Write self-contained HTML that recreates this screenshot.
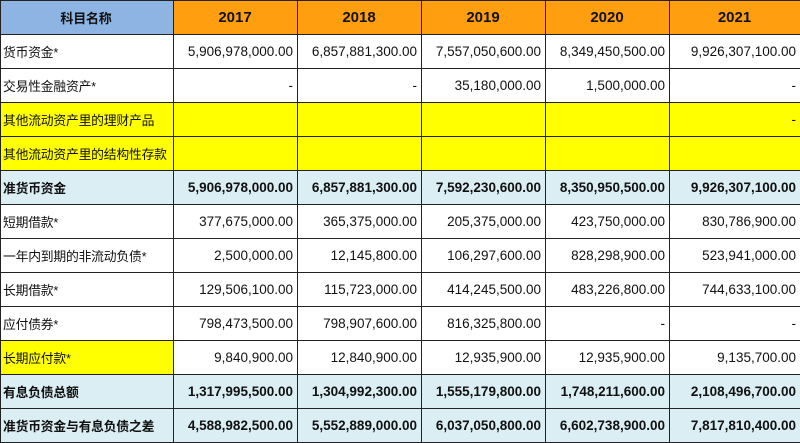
<!DOCTYPE html>
<html><head><meta charset="utf-8"><style>
html,body{margin:0;padding:0;background:#fff;}
body{width:800px;height:443px;overflow:hidden;position:relative;font-family:"Liberation Sans","Noto Sans CJK SC",sans-serif;}
table{border-collapse:collapse;position:absolute;left:0;top:0;table-layout:fixed;width:800px;}
td{height:33px;border:1px solid #222;padding:0 4px 0 3px;font-size:13.5px;color:#111;white-space:nowrap;overflow:hidden;text-align:right;}
td.n{text-align:left;padding-left:2px;font-size:12.8px;letter-spacing:-0.2px;}
tr.h td{background:#ff9e0f;font-weight:bold;font-size:15px;text-align:center;}
tr.h td.n{background:#8db4e2;text-align:center;font-size:13px;}
tr.y td{background:#ffff00;}
tr.b td{background:#dbeef4;font-weight:bold;}
tr.y td.n{background:#ffff00}
tr.b td.n{background:#dbeef4}
</style></head><body>
<table>
<colgroup><col style="width:173px"><col style="width:124px"><col style="width:124px"><col style="width:124px"><col style="width:124px"><col style="width:131px"></colgroup>
<tr class="h"><td class="n">科目名称</td><td>2017</td><td>2018</td><td>2019</td><td>2020</td><td>2021</td></tr>
<tr><td class="n">货币资金*</td><td>5,906,978,000.00</td><td>6,857,881,300.00</td><td>7,557,050,600.00</td><td>8,349,450,500.00</td><td>9,926,307,100.00</td></tr>
<tr><td class="n">交易性金融资产*</td><td>-</td><td>-</td><td>35,180,000.00</td><td>1,500,000.00</td><td>-</td></tr>
<tr class="y"><td class="n">其他流动资产里的理财产品</td><td></td><td></td><td></td><td></td><td>-</td></tr>
<tr class="y"><td class="n">其他流动资产里的结构性存款</td><td></td><td></td><td></td><td></td><td></td></tr>
<tr class="b"><td class="n">准货币资金</td><td>5,906,978,000.00</td><td>6,857,881,300.00</td><td>7,592,230,600.00</td><td>8,350,950,500.00</td><td>9,926,307,100.00</td></tr>
<tr><td class="n">短期借款*</td><td>377,675,000.00</td><td>365,375,000.00</td><td>205,375,000.00</td><td>423,750,000.00</td><td>830,786,900.00</td></tr>
<tr><td class="n">一年内到期的非流动负债*</td><td>2,500,000.00</td><td>12,145,800.00</td><td>106,297,600.00</td><td>828,298,900.00</td><td>523,941,000.00</td></tr>
<tr><td class="n">长期借款*</td><td>129,506,100.00</td><td>115,723,000.00</td><td>414,245,500.00</td><td>483,226,800.00</td><td>744,633,100.00</td></tr>
<tr><td class="n">应付债券*</td><td>798,473,500.00</td><td>798,907,600.00</td><td>816,325,800.00</td><td>-</td><td>-</td></tr>
<tr><td class="n" style="background:#ffff00">长期应付款*</td><td>9,840,900.00</td><td>12,840,900.00</td><td>12,935,900.00</td><td>12,935,900.00</td><td>9,135,700.00</td></tr>
<tr class="b"><td class="n">有息负债总额</td><td>1,317,995,500.00</td><td>1,304,992,300.00</td><td>1,555,179,800.00</td><td>1,748,211,600.00</td><td>2,108,496,700.00</td></tr>
<tr class="b"><td class="n">准货币资金与有息负债之差</td><td>4,588,982,500.00</td><td>5,552,889,000.00</td><td>6,037,050,800.00</td><td>6,602,738,900.00</td><td>7,817,810,400.00</td></tr>
</table>
</body></html>
